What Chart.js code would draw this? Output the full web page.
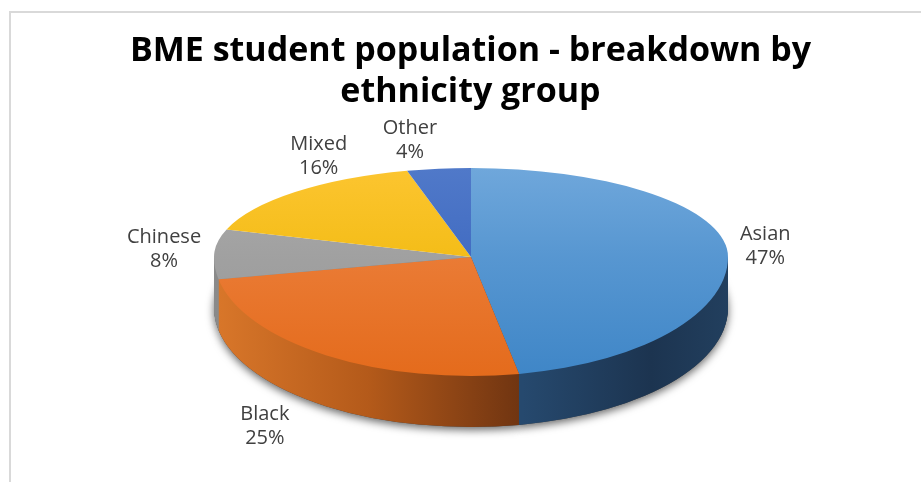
<!DOCTYPE html>
<html>
<head>
<meta charset="utf-8">
<script src="https://cdn.jsdelivr.net/npm/chart.js@4.4.0/dist/chart.umd.min.js"></script>
<style>
    body { margin: 0; background: #fff; }
    #wrap { position: relative; width: 921px; height: 482px; overflow: hidden; }
    #frame { position: absolute; left: 9px; top: 11px; width: 930px; height: 490px;
             border-left: 2px solid #d9d9d9; border-top: 2px solid #d9d9d9; }
    canvas { position: absolute; left: 0; top: 0; }
</style>
</head>
<body>
<div id="wrap">
    <div id="frame"></div>
    <canvas id="pie-chart" width="921" height="482"></canvas>
</div>
<script>
// 차트 데이터
const groups = ['Asian', 'Black', 'Chinese', 'Mixed', 'Other'];
const shares = [47, 25, 8, 16, 4]; // %
const titleLines = ['BME student population - breakdown by', 'ethnicity group'];

// 윗면 색 (위 -> 아래 그라데이션)
const topColors = [
    ['#6fa7db', '#3f86c7'],
    ['#f08b4e', '#e46b1c'],
    ['#ababab', '#969696'],
    ['#fcc530', '#ecb500'],
    ['#5079c9', '#3460bb']
];
// 옆면 색 (왼쪽 -> 오른쪽)
const sideColors = [
    [[0, '#2f5a85'], [0.6, '#26496e'], [0.85, '#1c3450'], [1, '#223f5e']],
    [[0, '#d9772a'], [0.3, '#b45a1a'], [0.6, '#6f3411'], [1, '#6f3411']],
    [[0, '#8a8a8a'], [1, '#6a6a6a']],
    [[0, '#c89a00'], [1, '#9a7600']],
    [[0, '#34559a'], [1, '#28457f']]
];

// 3D 느낌을 내기 위한 배치 값 (화면 픽셀)
const CX = 471, CY = 257, RX = 257, RY_TOP = 89, RY_BOT = 119, DEPTH = 51;
const LABEL_R = 1.15;
const LABEL_NUDGE = [[0, -7], [-40, -1], [-12, -8], [50, -32], [-24, -21]];

// 파이를 타원으로 눌러서 그리기 위한 변환
function squash(ctx, arc, ry, dy) {
    ctx.translate(CX, CY + dy);
    ctx.scale(RX / arc.outerRadius, ry / arc.outerRadius);
    ctx.translate(-arc.x, -arc.y);
}

// Chart.js 의 arc 요소를 다른 색으로 그리기
function drawArc(ctx, arc, fill) {
    const tmp = Object.create(arc);
    tmp.options = Object.assign({}, arc.options, { backgroundColor: fill, borderWidth: 0 });
    tmp.draw(ctx);
}

const pie3d = {
    id: 'pie3d',
    beforeDatasetsDraw(chart) {
        const ctx = chart.ctx;
        const arcs = chart.getDatasetMeta(0).data;
        const a0 = arcs[0];
        const R = a0.outerRadius;
        const W = chart.width, H = chart.height;

        const side = sideColors.map(stops => {
            const g = ctx.createLinearGradient(a0.x - R, 0, a0.x + R, 0);
            stops.forEach(([p, c]) => g.addColorStop(p, c));
            return g;
        });
        const top = topColors.map(([c1, c2]) => {
            const g = ctx.createLinearGradient(0, a0.y - R, 0, a0.y + R);
            g.addColorStop(0, c1);
            g.addColorStop(1, c2);
            return g;
        });

        // 옆면 (아래쪽 절반만 보임)
        ctx.save();
        ctx.beginPath();
        ctx.rect(0, CY, W, H - CY);
        ctx.clip();

        ctx.save();
        squash(ctx, a0, RY_BOT, DEPTH);
        ctx.shadowColor = 'rgba(0,0,0,0.6)';
        ctx.shadowBlur = 8;
        ctx.shadowOffsetY = 3;
        arcs.forEach(a => drawArc(ctx, a, '#444'));
        ctx.restore();

        for (let d = DEPTH; d >= 1; d--) {
            ctx.save();
            squash(ctx, a0, RY_BOT, d);
            arcs.forEach((a, i) => drawArc(ctx, a, side[i]));
            ctx.restore();
        }
        ctx.restore();

        // 윗면 - 위쪽 절반
        ctx.save();
        ctx.beginPath();
        ctx.rect(0, 0, W, CY);
        ctx.clip();
        squash(ctx, a0, RY_TOP, 0);
        arcs.forEach((a, i) => drawArc(ctx, a, top[i]));
        ctx.restore();

        // 윗면 - 아래쪽 절반
        ctx.save();
        ctx.beginPath();
        ctx.rect(0, CY, W, H - CY);
        ctx.clip();
        squash(ctx, a0, RY_BOT, 0);
        arcs.forEach((a, i) => drawArc(ctx, a, top[i]));
        ctx.restore();

        return false; // 기본 파이는 그리지 않음
    },
    afterDraw(chart) {
        const ctx = chart.ctx;
        const arcs = chart.getDatasetMeta(0).data;
        ctx.save();
        ctx.fillStyle = '#404040';
        ctx.font = '20px "Open Sans"';
        ctx.textAlign = 'center';
        ctx.textBaseline = 'alphabetic';
        arcs.forEach((a, i) => {
            const mid = (a.startAngle + a.endAngle) / 2;
            const s = Math.sin(mid);
            const ry = s > 0 ? RY_BOT : RY_TOP;
            let x = CX + LABEL_R * RX * Math.cos(mid);
            let y = CY + LABEL_R * ry * s + (s > 0 ? DEPTH : 0);
            x += LABEL_NUDGE[i][0];
            y += LABEL_NUDGE[i][1];
            ctx.fillText(groups[i], x, y);
            ctx.fillText(shares[i] + '%', x, y + 24);
        });
        ctx.restore();
    }
};

new Chart(document.getElementById('pie-chart'), {
    type: 'pie',
    data: {
        labels: groups,
        datasets: [{
            data: shares,
            backgroundColor: topColors.map(c => c[0]),
            borderWidth: 0
        }]
    },
    options: {
        responsive: false,
        devicePixelRatio: 1,
        animation: false,
        layout: { padding: { left: 20 } },
        plugins: {
            legend: { display: false },
            tooltip: { enabled: false },
            title: {
                display: true,
                text: titleLines,
                color: '#000',
                font: { family: '"Open Sans"', size: 34, weight: 'bold', lineHeight: 1.2 },
                padding: { top: 31, bottom: 0 }
            }
        }
    },
    plugins: [pie3d]
});
</script>
</body>
</html>
